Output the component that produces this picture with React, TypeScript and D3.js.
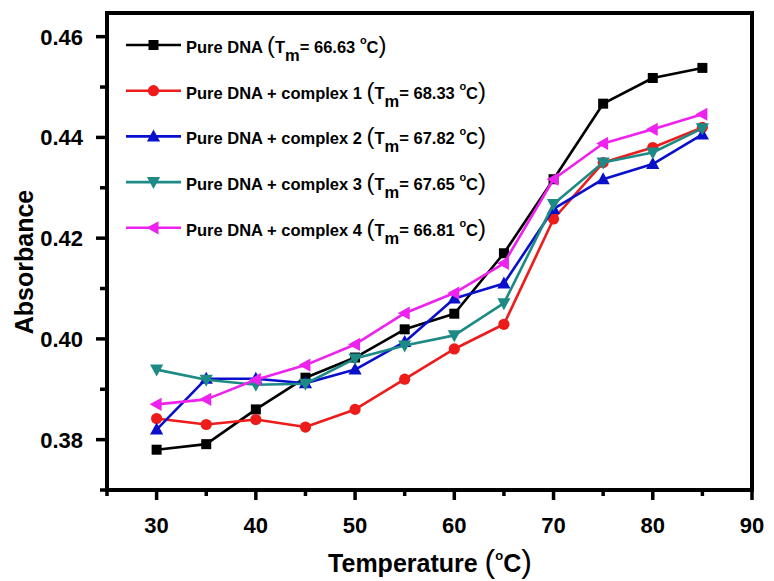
import React from "react";
import * as d3 from "d3";

// Temperature points (°C)
const temperatures = [30, 35, 40, 45, 50, 55, 60, 65, 70, 75, 80, 85];

// Absorbance for each sample
const pureDNA = [0.378, 0.3791, 0.386, 0.3923, 0.3963, 0.4019, 0.405, 0.417, 0.4317, 0.4467, 0.4518, 0.4538];
const complex1 = [0.3842, 0.383, 0.384, 0.3825, 0.386, 0.392, 0.398, 0.4029, 0.4238, 0.435, 0.438, 0.442];
const complex2 = [0.382, 0.3921, 0.3921, 0.3912, 0.3939, 0.3994, 0.408, 0.411, 0.4258, 0.4317, 0.4347, 0.4406];
const complex3 = [0.3939, 0.3919, 0.3909, 0.3911, 0.3961, 0.3987, 0.4007, 0.4071, 0.4268, 0.435, 0.437, 0.4418];
const complex4 = [0.387, 0.388, 0.3919, 0.3948, 0.3989, 0.4051, 0.4091, 0.415, 0.4317, 0.4388, 0.4416, 0.4446];

const seriesNames = ["Pure DNA", "Pure DNA + complex 1", "Pure DNA + complex 2", "Pure DNA + complex 3", "Pure DNA + complex 4"];
const meltingTemps = ["66.63", "68.33", "67.82", "67.65", "66.81"];
const seriesColors = ["#000000", "#ee1b1b", "#0a0fcc", "#1e8a86", "#ee22ee"];
const seriesMarkers = ["square", "circle", "up", "down", "left"];
const seriesValues = [pureDNA, complex1, complex2, complex3, complex4];

const xMajorTicks = [30, 40, 50, 60, 70, 80, 90];
const xMinorTicks = [25, 35, 45, 55, 65, 75, 85];
const yMajorTicks = [0.38, 0.40, 0.42, 0.44, 0.46];
const yMinorTicks = [0.37, 0.39, 0.41, 0.43, 0.45];

const W = 774;
const H = 581;
const left = 107, right = 752, top = 13, bottom = 490;

const FONT = "'Liberation Sans', Arial, Helvetica, sans-serif";

function Marker({ kind, x, y, color }: { kind: string; x: number; y: number; color: string }) {
  if (kind === "square") return <rect x={x - 5} y={y - 5} width={10} height={10} fill={color} />;
  if (kind === "circle") return <circle cx={x} cy={y} r={5.6} fill={color} />;
  let d = "";
  if (kind === "up") d = "M0,-7 L6.6,5 L-6.6,5Z";
  if (kind === "down") d = "M0,7 L6.6,-5 L-6.6,-5Z";
  if (kind === "left") d = "M-7,0 L5,-6.6 L5,6.6Z";
  return <path d={d} transform={`translate(${x},${y})`} fill={color} />;
}

export default function App() {
  const x = d3.scaleLinear().domain([25, 90]).range([left, right]);
  const y = d3.scaleLinear().domain([0.37, 0.4647]).range([bottom, top]);
  const line = d3
    .line<[number, number]>()
    .x((d) => x(d[0]))
    .y((d) => y(d[1]));

  return (
    <svg
      width={W}
      height={H}
      style={{ position: "absolute", left: 0, top: 0, background: "#fff" }}
      fontFamily={FONT}
    >
      <rect x={0} y={0} width={W} height={H} fill="#fff" />

      {/* data series */}
      {seriesValues.map((vals, i) => {
        const pts = temperatures.map((t, j) => [t, vals[j]] as [number, number]);
        return (
          <g key={i}>
            <path d={line(pts) || ""} fill="none" stroke={seriesColors[i]} strokeWidth={2.6} strokeLinejoin="round" />
            {pts.map((p, j) => (
              <Marker key={j} kind={seriesMarkers[i]} x={x(p[0])} y={y(p[1])} color={seriesColors[i]} />
            ))}
          </g>
        );
      })}

      {/* frame */}
      <rect x={left} y={top} width={right - left} height={bottom - top} fill="none" stroke="#000" strokeWidth={4} />

      {/* x ticks */}
      {xMajorTicks.map((t) => (
        <g key={"xm" + t}>
          <line x1={x(t)} x2={x(t)} y1={bottom} y2={bottom + 10} stroke="#000" strokeWidth={3.5} />
          <text x={x(t)} y={533} textAnchor="middle" fontSize={22} fontWeight="bold">
            {t}
          </text>
        </g>
      ))}
      {xMinorTicks.map((t) => (
        <line key={"xn" + t} x1={x(t)} x2={x(t)} y1={bottom} y2={bottom + 6} stroke="#000" strokeWidth={3.5} />
      ))}

      {/* y ticks */}
      {yMajorTicks.map((t) => (
        <g key={"ym" + t}>
          <line x1={left} x2={left - 11} y1={y(t)} y2={y(t)} stroke="#000" strokeWidth={3.5} />
          <text x={83} y={y(t) + 8} textAnchor="end" fontSize={22} fontWeight="bold">
            {t.toFixed(2)}
          </text>
        </g>
      ))}
      {yMinorTicks.map((t) => (
        <line key={"yn" + t} x1={left} x2={left - 7} y1={y(t)} y2={y(t)} stroke="#000" strokeWidth={3.5} />
      ))}

      {/* axis titles */}
      <text transform="translate(33,262) rotate(-90)" textAnchor="middle" fontSize={25} fontWeight="bold">
        Absorbance
      </text>
      <text x={430} y={572} textAnchor="middle" fontWeight="bold" fontSize={25}>
        Temperature <tspan fontSize={32} fontWeight="normal">(</tspan>
        <tspan fontSize={13} dy={-12}>o</tspan>
        <tspan dy={12}>C</tspan>
        <tspan fontSize={32} fontWeight="normal">)</tspan>
      </text>

      {/* legend */}
      {seriesNames.map((name, i) => {
        const ly = 45 + i * 45.7;
        return (
          <g key={"lg" + i}>
            <line x1={126} x2={181} y1={ly} y2={ly} stroke={seriesColors[i]} strokeWidth={2.6} />
            <Marker kind={seriesMarkers[i]} x={153.5} y={ly} color={seriesColors[i]} />
            <text x={186} y={ly + 8} fontSize={16.5} fontWeight="bold">
              {name + " "}
              <tspan fontSize={24} fontWeight="normal">(</tspan>
              <tspan>T</tspan>
              <tspan dy={8}>m</tspan>
              <tspan dy={-8}>{"= " + meltingTemps[i] + " "}</tspan>
              <tspan fontSize={11} dy={-9}>o</tspan>
              <tspan dy={9}>C</tspan>
              <tspan fontSize={24} fontWeight="normal">)</tspan>
            </text>
          </g>
        );
      })}
    </svg>
  );
}
